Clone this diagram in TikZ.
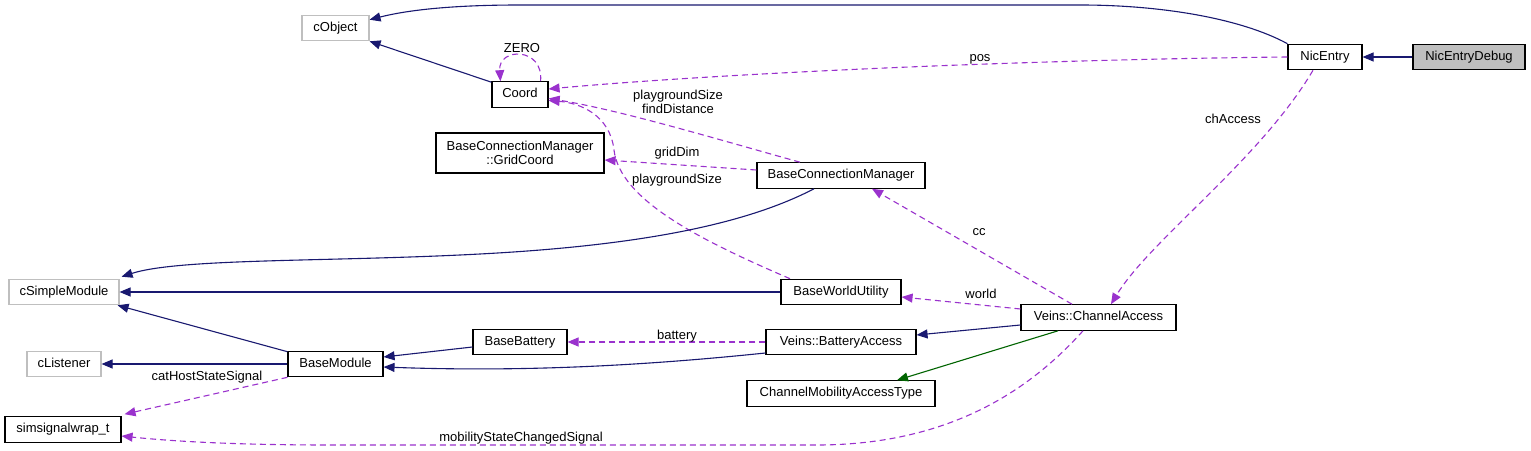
\documentclass[tikz,border=0pt]{standalone}
\usepackage{fontspec}
\usetikzlibrary{arrows.meta}
\newfontfamily\dgfam{Liberation Sans}
\newcommand\dgfont{\dgfam\fontsize{13bp}{14bp}\selectfont}
\definecolor{navy}{HTML}{191970}
\definecolor{purp}{HTML}{9A32CD}
\definecolor{dgreen}{HTML}{006400}
\definecolor{extgray}{HTML}{BFBFBF}
\tikzset{
  cls/.style={draw=black, line width=1.1bp, fill=white, inner sep=0pt, minimum height=25.5bp, font=\dgfont, text height=9.4bp, text depth=2.6bp},
  ext/.style={cls, draw=extgray},
  lbl/.style={inner sep=0pt, font=\dgfont, text height=9.4bp, text depth=2.6bp},
  tip/.style={-{Triangle[length=11bp,width=9bp]}},
  inh/.style={draw=navy, line width=1.1bp, tip},
  use/.style={draw=purp, line width=1.1bp, dash pattern=on 6bp off 4bp, tip},
  tpl/.style={draw=dgreen, line width=1.1bp, tip}
}
\begin{document}
\begin{tikzpicture}[x=1bp,y=-1bp]
\fill[white] (0,0) rectangle (1531,451);
\useasboundingbox (0,0) rectangle (1531,451);

% nodes
\node[ext, minimum width=67bp] (cobj) at (335.5,28) {cObject};
\node[cls, minimum width=56bp] (crd) at (520,94.5) {Coord};
\node[cls, minimum width=168bp, minimum height=40bp, align=center, text height=, text depth=] (gc) at (520,153) {BaseConnectionManager\\::GridCoord};
\node[cls, minimum width=168bp] (bcm) at (841,175.5) {BaseConnectionManager};
\node[cls, minimum width=74bp] (ne) at (1325,57) {NicEntry};
\node[cls, minimum width=112bp, fill=extgray] (ned) at (1469,57) {NicEntryDebug};
\node[ext, minimum width=110bp] (csm) at (64,292) {cSimpleModule};
\node[cls, minimum width=120bp] (bwu) at (841,292) {BaseWorldUtility};
\node[cls, minimum width=155bp] (ca) at (1098.5,317.5) {Veins::ChannelAccess};
\node[ext, minimum width=74bp] (cl) at (64,364) {cListener};
\node[cls, minimum width=95bp] (bm) at (335.5,364) {BaseModule};
\node[cls, minimum width=94bp] (bb) at (520,342) {BaseBattery};
\node[cls, minimum width=150bp] (ba) at (841,342) {Veins::BatteryAccess};
\node[cls, minimum width=188bp] (cmat) at (841,393.5) {ChannelMobilityAccessType};
\node[cls, minimum width=116bp] (ss) at (63,429.5) {simsignalwrap\_t};

% edges
\draw[inh] (ned.west) -- (ne.east);
\draw[inh] (ne.north west) .. controls (1240,18) and (1160,5) .. (1080,5) -- (520,5) .. controls (440,5) and (400,12) .. ([yshift=-5bp]cobj.north east);
\draw[inh] ([yshift=-1bp]crd.north west) -- (cobj.south east);
\draw[use] ([xshift=-8bp]crd.north east) .. controls (544,47) and (498,47) .. ([xshift=9bp]crd.north west);
\draw[use] (ne.west) .. controls (1000,60) and (700,75) .. ([yshift=5.5bp]crd.east);
\draw[use] ([xshift=-41bp]bcm.north) .. controls (720,140) and (620,110) .. ([yshift=-4bp]crd.east);
\draw[use] ([yshift=5.5bp]bcm.west) -- ([yshift=-7bp]gc.east);
\draw[use] ([xshift=-51bp]bwu.north) .. controls (700,240) and (620,200) .. (614,150) .. controls (610,115) and (580,103) .. ([yshift=-6bp]crd.east);
\draw[inh] ([xshift=-27bp]bcm.south) .. controls (750,222) and (650,245) .. (480,254) .. controls (330,262) and (180,258) .. ([xshift=2bp,yshift=2bp]csm.north east);
\draw[inh] (bwu.west) -- (csm.east);
\draw[inh] ([yshift=-1bp]bm.north west) -- ([xshift=-2bp]csm.south east);
\draw[inh] (bm.west) -- (cl.east);
\draw[inh] ([yshift=-5bp]bb.west) -- ([yshift=7bp]bm.east);
\draw[inh] ([yshift=-11bp]ba.west) .. controls (640,366) and (520,372) .. ([yshift=-3bp]bm.east);
\draw[use] (bm.south west) -- ([xshift=3bp,yshift=2bp]ss.north east);
\draw[use] (ba.west) -- (bb.east);
\draw[use] ([yshift=8.5bp]ca.west) -- ([yshift=-5bp]bwu.east);
\draw[use] ([xshift=-26.5bp]ca.north) -- ([xshift=31bp]bcm.south);
\draw[use] ([xshift=-12bp]ne.south) .. controls (1260,160) and (1150,240) .. ([xshift=12.5bp]ca.north);
\draw[inh] ([yshift=-7.5bp]ca.west) -- ([yshift=7bp]ba.east);
\draw[tpl] ([xshift=-40.5bp]ca.south) -- ([xshift=56bp]cmat.north);
\draw[use] ([xshift=-15.5bp]ca.south) .. controls (1030,390) and (950,444) .. (820,445) -- (330,445) .. controls (220,445) and (160,440) .. ([yshift=-6.5bp]ss.east);

% labels
\node[lbl] (lzero) at (522,49) {ZERO};
\node[lbl] (lpos) at (980,58) {pos};
\node[lbl, align=center, text height=, text depth=] (lpgfd) at (678,102) {playgroundSize\\findDistance};
\node[lbl] (lgrid) at (677,153) {gridDim};
\node[lbl] (lpg) at (677,180) {playgroundSize};
\node[lbl] (lch) at (1233,120) {chAccess};
\node[lbl] (lcc) at (979,232) {cc};
\node[lbl] (lworld) at (981,295) {world};
\node[lbl] (lbat) at (677,336) {battery};
\node[lbl] (lcat) at (207,377) {catHostStateSignal};
\node[lbl] (lmob) at (521,438) {mobilityStateChangedSignal};
\end{tikzpicture}
\end{document}
